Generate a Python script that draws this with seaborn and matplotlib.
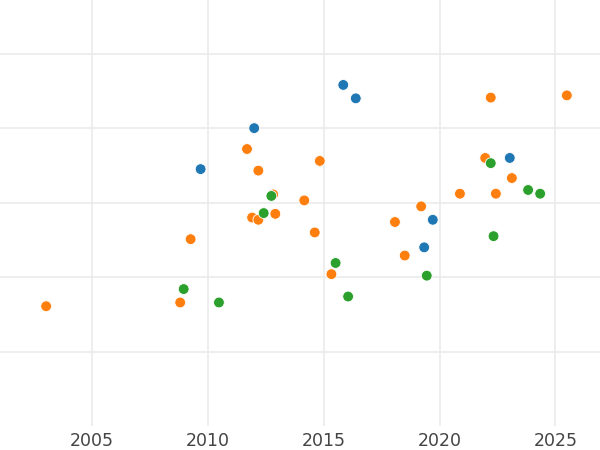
import matplotlib
import matplotlib.pyplot as plt
import pandas as pd
import seaborn as sns

matplotlib.use("Agg")

# values (x = decimal year, y = unlabelled scale)
blue_year = [2015.85, 2016.39, 2012.01, 2009.70, 2023.03, 2019.71, 2019.34]
blue_val = [4.58, 4.40, 4.00, 3.45, 3.60, 2.77, 2.40]

orange_year = [2003.04, 2008.82, 2009.27, 2011.70, 2012.19, 2011.92, 2012.19,
               2012.83, 2012.92, 2014.17, 2014.62, 2014.84, 2015.34, 2018.08,
               2018.50, 2019.21, 2020.88, 2022.21, 2021.97, 2022.43, 2023.12,
               2025.49]
orange_val = [1.61, 1.66, 2.51, 3.72, 3.43, 2.80, 2.77,
              3.11, 2.85, 3.03, 2.60, 3.56, 2.04, 2.74,
              2.29, 2.95, 3.12, 4.41, 3.60, 3.12, 3.33,
              4.44]

green_year = [2008.97, 2010.49, 2012.75, 2012.42, 2015.52, 2016.06, 2019.45,
              2022.21, 2022.33, 2023.82, 2024.34]
green_val = [1.84, 1.66, 3.09, 2.86, 2.19, 1.74, 2.02,
             3.53, 2.55, 3.17, 3.12]

x_ticks = [2005, 2010, 2015, 2020, 2025]
y_ticks = [1, 2, 3, 4, 5]

df = pd.concat([
    pd.DataFrame({"year": blue_year, "value": blue_val, "group": "a"}),
    pd.DataFrame({"year": orange_year, "value": orange_val, "group": "b"}),
    pd.DataFrame({"year": green_year, "value": green_val, "group": "c"}),
], ignore_index=True)

sns.set_theme(style="whitegrid")
plt.rcParams["grid.color"] = "#ebebeb"
plt.rcParams["grid.linewidth"] = 1.2

fig = plt.figure(figsize=(6, 4.5), dpi=100)
ax = fig.add_axes([0, 0.053, 1, 0.947])

sns.scatterplot(
    data=df, x="year", y="value", hue="group",
    palette=["#1f77b4", "#ff7f0e", "#2ca02c"],
    s=60, linewidth=0.6, edgecolor="white", legend=False, ax=ax,
)

ax.set_xlim(2001.05, 2026.92)
ax.set_ylim(0.0, 5.72)
ax.set_xticks(x_ticks)
ax.set_yticks(y_ticks)
ax.set_yticklabels([])
ax.set_xlabel("")
ax.set_ylabel("")
ax.tick_params(axis="x", labelsize=12.5, labelcolor="#444444", pad=4.5, length=0)
ax.tick_params(axis="y", length=0)
sns.despine(ax=ax, left=True, bottom=True)

fig.savefig("out.png", dpi=100)
